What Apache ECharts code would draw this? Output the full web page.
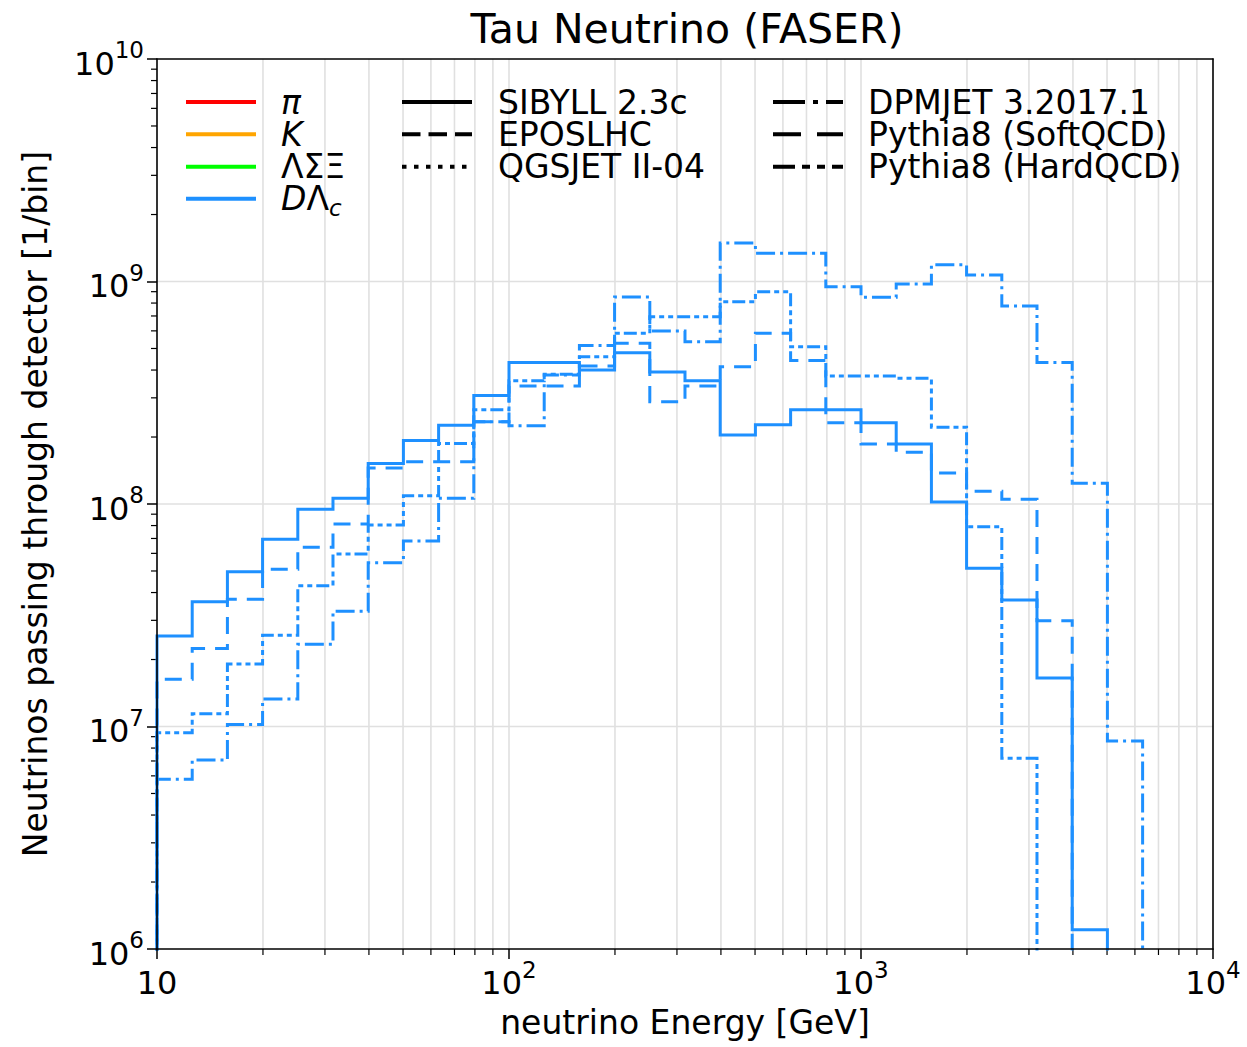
<!DOCTYPE html>
<html>
<head>
<meta charset="utf-8">
<title>Tau Neutrino (FASER)</title>
<script src="https://cdn.jsdelivr.net/npm/echarts@6/dist/echarts.min.js"></script>
<style>
  html, body { margin: 0; padding: 0; background: #fff; }
  #main { width: 1247px; height: 1047px; }
</style>
</head>
<body>
<div id="main"></div>
<script>
// histogram bin edges, 10 per decade [GeV]
var binEdges = [10, 12.59, 15.85, 19.95, 25.12, 31.62, 39.81, 50.12, 63.1, 79.43,
    100, 125.9, 158.5, 199.5, 251.2, 316.2, 398.1, 501.2, 631, 794.3,
    1000, 1259, 1585, 1995, 2512, 3162, 3981, 5012, 6310, 7943, 10000];

// neutrinos per bin, D / Lambda_c parents (0 = empty bin)
var sibyll = [2.55e7, 3.64e7, 4.96e7, 6.94e7, 9.47e7, 1.06e8, 1.52e8, 1.93e8, 2.26e8, 3.07e8,
    4.32e8, 4.32e8, 4.0e8, 4.79e8, 3.92e8, 3.58e8, 2.04e8, 2.27e8, 2.65e8, 2.65e8,
    2.32e8, 1.86e8, 1.02e8, 5.14e7, 3.7e7, 1.65e7, 1.22e6, 0, 0, 0];
var dpmjet = [5.79e6, 7.07e6, 1.02e7, 1.33e7, 2.34e7, 3.3e7, 5.45e7, 6.82e7, 1.06e8, 2.34e8,
    2.25e8, 3.8e8, 5.15e8, 8.52e8, 5.99e8, 5.36e8, 1.49e9, 1.34e9, 1.34e9, 9.48e8,
    8.49e8, 9.74e8, 1.19e9, 1.07e9, 7.76e8, 4.32e8, 1.24e8, 8.61e6, 0, 0];
var pythiaSoft = [1.63e7, 2.24e7, 3.73e7, 5.09e7, 6.39e7, 8.13e7, 1.45e8, 1.55e8, 1.55e8, 2.34e8,
    3.39e8, 3.39e8, 4.17e8, 5.28e8, 2.88e8, 3.39e8, 4.14e8, 5.85e8, 4.41e8, 2.32e8,
    1.86e8, 1.71e8, 1.38e8, 1.14e8, 1.05e8, 2.99e7, 0, 0, 0, 0];
var pythiaHard = [9.38e6, 1.14e7, 1.91e7, 2.57e7, 4.29e7, 5.96e7, 8.04e7, 1.09e8, 1.87e8, 2.65e8,
    3.58e8, 3.83e8, 4.59e8, 5.85e8, 6.95e8, 6.95e8, 8.11e8, 9.0e8, 5.09e8, 3.76e8,
    3.76e8, 3.67e8, 2.21e8, 7.91e7, 7.2e6, 0, 0, 0, 0, 0];

// axes
var xRange = [10, 10000];
var yRange = [1e6, 1e10];
var xMajor = [10, 100, 1000, 10000];
var xMinor = [20, 30, 40, 50, 60, 70, 80, 90, 200, 300, 400, 500, 600, 700, 800, 900,
    2000, 3000, 4000, 5000, 6000, 7000, 8000, 9000];
var yMajor = [1e6, 1e7, 1e8, 1e9, 1e10];
var yMinor = [2e6, 3e6, 4e6, 5e6, 6e6, 7e6, 8e6, 9e6, 2e7, 3e7, 4e7, 5e7, 6e7, 7e7, 8e7, 9e7,
    2e8, 3e8, 4e8, 5e8, 6e8, 7e8, 8e8, 9e8, 2e9, 3e9, 4e9, 5e9, 6e9, 7e9, 8e9, 9e9];

var FONT = '"DejaVu Sans", sans-serif';
var BLUE = '#1e90ff';
var GRID = '#e0e0e0';
var FLOOR = 1e3; // empty bins sit below the axis and get clipped

function stepData(vals) {
    var pts = [[binEdges[0], FLOOR]];
    vals.forEach(function (v, i) {
        pts.push([binEdges[i], v > 0 ? v : FLOOR]);
    });
    pts.push([binEdges[vals.length], FLOOR]);
    return pts;
}

function powLabel(v) {
    var e = Math.round(Math.log10(v));
    if (e === 1) return '{b|10}';
    return '{b|10}{s|' + e + '}';
}

var tickRich = {
    b: { fontSize: 32, fontFamily: FONT, color: '#000', padding: [9, 0, 0, 0], verticalAlign: 'bottom' },
    s: { fontSize: 23, fontFamily: FONT, color: '#000', padding: [0, 0, 18, 0], verticalAlign: 'bottom' }
};

function histSeries(name, vals, dash) {
    return {
        name: name,
        type: 'line',
        step: 'end',
        symbol: 'none',
        data: stepData(vals),
        z: 3,
        lineStyle: { color: BLUE, width: 3, type: dash, cap: 'butt', join: 'miter' }
    };
}

// gridlines + minor ticks, placed through the axes
function gridXItem(params, api) {
    var v = api.value(0);
    var lo = api.coord([v, yRange[0]]);
    var hi = api.coord([v, yRange[1]]);
    var kids = [];
    if (v > xRange[0] && v < xRange[1]) {
        kids.push({ type: 'line', shape: { x1: lo[0], y1: lo[1], x2: hi[0], y2: hi[1] },
            style: { stroke: GRID, lineWidth: 1.6 } });
    }
    if (xMajor.indexOf(v) < 0) {
        kids.push({ type: 'line', shape: { x1: lo[0], y1: lo[1], x2: lo[0], y2: lo[1] + 6 },
            style: { stroke: '#000', lineWidth: 1.2 } });
    }
    return { type: 'group', children: kids };
}

function gridYItem(params, api) {
    var v = api.value(1);
    var l = api.coord([xRange[0], v]);
    var r = api.coord([xRange[1], v]);
    var kids = [];
    if (yMajor.indexOf(v) >= 0) {
        if (v > yRange[0] && v < yRange[1]) {
            kids.push({ type: 'line', shape: { x1: l[0], y1: l[1], x2: r[0], y2: r[1] },
                style: { stroke: GRID, lineWidth: 1.6 } });
        }
    } else {
        kids.push({ type: 'line', shape: { x1: l[0] - 6, y1: l[1], x2: l[0], y2: l[1] },
            style: { stroke: '#000', lineWidth: 1.2 } });
    }
    return { type: 'group', children: kids };
}

// legend drawn by hand (three columns)
var legendCols = [
    { x: 186, tx: 281, items: [
        { color: '#ff0000', dash: null, rich: '{it|π}' },
        { color: '#ffa500', dash: null, rich: '{it|K}' },
        { color: '#00ff00', dash: null, rich: '{up|ΛΣΞ}' },
        { color: BLUE, dash: null, rich: '{it|D}{up|Λ}', sub: 'c' }
    ] },
    { x: 402, tx: 498, items: [
        { color: '#000', dash: null, rich: '{up|SIBYLL 2.3c}' },
        { color: '#000', dash: [18.5, 8], rich: '{up|EPOSLHC}' },
        { color: '#000', dash: [4.5, 7.5], rich: '{up|QGSJET II-04}' }
    ] },
    { x: 773, tx: 868, items: [
        { color: '#000', dash: [32, 8, 5, 8], rich: '{up|DPMJET 3.2017.1}' },
        { color: '#000', dash: [28, 16], rich: '{up|Pythia8 (SoftQCD)}' },
        { color: '#000', dash: [22, 7, 8, 7, 8, 7], rich: '{up|Pythia8 (HardQCD)}' }
    ] }
];
var legendRows = [102, 134.3, 166.7, 198.7];
var legendRich = {
    it: { fontSize: 33, lineHeight: 29, fontFamily: FONT, fontStyle: 'italic', color: '#000' },
    up: { fontSize: 33, lineHeight: 29, fontFamily: FONT, color: '#000' }
};

var graphics = [];
legendCols.forEach(function (col) {
    col.items.forEach(function (it, i) {
        var y = legendRows[i];
        graphics.push({
            type: 'line',
            shape: { x1: col.x, y1: y, x2: col.x + 70, y2: y },
            style: { stroke: it.color, lineWidth: 4, lineDash: it.dash, lineCap: 'butt' },
            z: 10
        });
        graphics.push({
            type: 'text',
            x: col.tx, y: y,
            style: {
                text: it.rich, rich: legendRich,
                fill: '#000', fontSize: 33, fontFamily: FONT,
                align: 'left', verticalAlign: 'middle',
                textAlign: 'left', textVerticalAlign: 'middle'
            },
            z: 10
        });
        if (it.sub) {
            graphics.push({
                type: 'text',
                x: col.tx + 48, y: y + 9,
                style: {
                    text: it.sub, fill: '#000', fontSize: 23, fontStyle: 'italic', fontFamily: FONT,
                    align: 'left', verticalAlign: 'middle',
                    textAlign: 'left', textVerticalAlign: 'middle'
                },
                z: 10
            });
        }
    });
});

var chart = echarts.init(document.getElementById('main'), null, { renderer: 'svg' });

chart.setOption({
    animation: false,
    backgroundColor: '#fff',
    textStyle: { fontFamily: FONT },
    title: {
        text: 'Tau Neutrino (FASER)',
        left: 682, top: 3, textAlign: 'center',
        textStyle: { fontSize: 41, fontWeight: 'normal', color: '#000', fontFamily: FONT }
    },
    grid: { left: 157, right: 34, top: 59, bottom: 98, containLabel: false },
    xAxis: [{
        type: 'log', logBase: 10, min: xRange[0], max: xRange[1],
        position: 'bottom', z: 5,
        name: 'neutrino Energy [GeV]', nameLocation: 'middle', nameGap: 57,
        nameTextStyle: { fontSize: 33, color: '#000', fontFamily: FONT },
        axisLine: { show: true, lineStyle: { color: '#000', width: 1.6 } },
        axisTick: { show: true, length: 10, lineStyle: { color: '#000', width: 1.5 } },
        axisLabel: { formatter: powLabel, rich: tickRich, margin: 9, color: '#000' },
        splitLine: { show: false }
    }, {
        type: 'log', logBase: 10, min: xRange[0], max: xRange[1],
        position: 'top', z: 5,
        axisLine: { show: true, lineStyle: { color: '#000', width: 1.6 } },
        axisTick: { show: false }, axisLabel: { show: false }, splitLine: { show: false }
    }],
    yAxis: [{
        type: 'log', logBase: 10, min: yRange[0], max: yRange[1],
        position: 'left', z: 5,
        name: 'Neutrinos passing through detector [1/bin]', nameLocation: 'middle', nameGap: 105,
        nameTextStyle: { fontSize: 33, color: '#000', fontFamily: FONT },
        axisLine: { show: true, lineStyle: { color: '#000', width: 1.6 } },
        axisTick: { show: true, length: 10, lineStyle: { color: '#000', width: 1.5 } },
        axisLabel: { formatter: powLabel, rich: tickRich, margin: 13, color: '#000' },
        splitLine: { show: false }
    }, {
        type: 'log', logBase: 10, min: yRange[0], max: yRange[1],
        position: 'right', z: 5,
        axisLine: { show: true, lineStyle: { color: '#000', width: 1.6 } },
        axisTick: { show: false }, axisLabel: { show: false }, splitLine: { show: false }
    }],
    graphic: graphics,
    series: [
        {
            type: 'custom', silent: true, z: 1, clip: false,
            renderItem: gridXItem,
            encode: { x: 0, y: 1 },
            data: xMajor.concat(xMinor).map(function (v) { return [v, yRange[0]]; })
        },
        {
            type: 'custom', silent: true, z: 1, clip: false,
            renderItem: gridYItem,
            encode: { x: 0, y: 1 },
            data: yMajor.concat(yMinor).map(function (v) { return [xRange[0], v]; })
        },
        histSeries('SIBYLL 2.3c', sibyll, 'solid'),
        histSeries('DPMJET 3.2017.1', dpmjet, [19, 5, 3, 5]),
        histSeries('Pythia8 (SoftQCD)', pythiaSoft, [17, 10]),
        histSeries('Pythia8 (HardQCD)', pythiaHard, [13, 4, 5, 4, 5, 4])
    ]
});
</script>
</body>
</html>
